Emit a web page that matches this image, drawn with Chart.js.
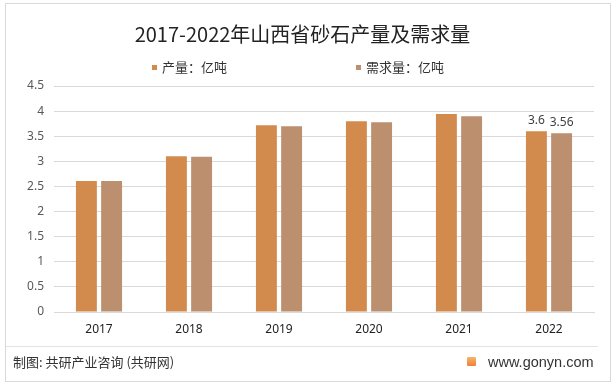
<!DOCTYPE html>
<html>
<head>
<meta charset="utf-8">
<script src="https://cdn.jsdelivr.net/npm/chart.js@4.4.1/dist/chart.umd.min.js"></script>
<style>
  html, body { margin: 0; padding: 0; background: #fff; }
  body { width: 615px; height: 387px; position: relative; overflow: hidden;
         font-family: "Noto Sans CJK SC", "Noto Sans", sans-serif; }
  #frame { position: absolute; left: 5px; top: 3px; width: 604px; height: 377px; border: 1px solid #d9d9d9; }
  #c { position: absolute; left: 0; top: 0; }
  .title { position: absolute; left: 0; width: 605px; top: 22px; text-align: center;
           font-size: 20px; color: #222; line-height: 24px; }
  .leg { position: absolute; top: 58px; font-size: 13px; color: #333; line-height: 18px; }
  .leg i { display: inline-block; width: 5px; height: 5px; margin-right: 5px; vertical-align: 2px; }
  #sep { position: absolute; left: 6px; width: 592px; top: 346px; border-top: 1px solid #e3e3e3; }
  .src { position: absolute; left: 13px; top: 353px; font-size: 13px; color: #333; line-height: 18px; }
  .site { position: absolute; left: 488px; top: 353px; font-family: "Liberation Sans", Arial, sans-serif;
          font-size: 14.5px; color: #333; line-height: 18px; }
  .logo { position: absolute; left: 467px; top: 357px; width: 9px; height: 9px; border-radius: 1px;
          background: linear-gradient(180deg, #f6b66a, #ef7f3a); }
</style>
</head>
<body>
<div id="frame"></div>
<canvas id="c" width="615" height="387"></canvas>
<div class="title">2017-2022年山西省砂石产量及需求量</div>
<div class="leg" style="left:152px"><i style="background:#D38B4D"></i>产量：亿吨</div>
<div class="leg" style="left:356px"><i style="background:#BC8F6F"></i>需求量：亿吨</div>
<div id="sep"></div>
<div class="src">制图: 共研产业咨询 (共研网)</div>
<div class="logo"></div>
<div class="site">www.gonyn.com</div>
<script>
// data
const years = ["2017", "2018", "2019", "2020", "2021", "2022"];
const output = [2.61, 3.1, 3.72, 3.8, 3.94, 3.6];
const demand = [2.61, 3.09, 3.7, 3.78, 3.9, 3.56];
const seriesNames = ["产量：亿吨", "需求量：亿吨"];
const labelled = [5]; // only the last year carries value labels

const COL = { out: "#D38B4D", dem: "#BC8F6F", grid: "#d9d9d9", tick: "#595959" };

const valueLabels = {
  id: "valueLabels",
  afterDatasetsDraw(chart) {
    const ctx = chart.ctx;
    ctx.save();
    ctx.font = "12px 'Noto Sans', sans-serif";
    ctx.fillStyle = "#404040";
    ctx.textAlign = "center";
    ctx.textBaseline = "bottom";
    chart.data.datasets.forEach((ds, di) => {
      const meta = chart.getDatasetMeta(di);
      labelled.forEach(i => {
        const bar = meta.data[i];
        ctx.fillText(String(ds.data[i]), bar.x, bar.y - 5);
      });
    });
    ctx.restore();
  }
};

new Chart(document.getElementById("c").getContext("2d"), {
  type: "bar",
  data: {
    labels: years,
    datasets: [
      { label: seriesNames[0], data: output, backgroundColor: COL.out },
      { label: seriesNames[1], data: demand, backgroundColor: COL.dem },
    ],
  },
  options: {
    responsive: false,
    animation: false,
    datasets: { bar: { categoryPercentage: 0.56, barPercentage: 0.83 } },
    layout: { padding: { left: 0, top: 86, right: 21, bottom: 0 } },
    plugins: { legend: { display: false }, tooltip: { enabled: false } },
    scales: {
      x: {
        grid: { display: false, drawTicks: false },
        border: { display: true, color: COL.grid },
        ticks: { color: "#222", font: { family: "Noto Sans", size: 12 }, padding: 10 },
        afterFit(s) { s.height = 75; },
      },
      y: {
        min: 0, max: 4.5,
        grid: { color: COL.grid, drawTicks: false },
        border: { display: false },
        ticks: {
          stepSize: 0.5, color: COL.tick, font: { family: "Noto Sans", size: 12 }, padding: 10,
          callback: v => String(+v.toFixed(1)),
        },
        afterFit(s) { s.width = 54; },
      },
    },
  },
  plugins: [valueLabels],
});
</script>
</body>
</html>
